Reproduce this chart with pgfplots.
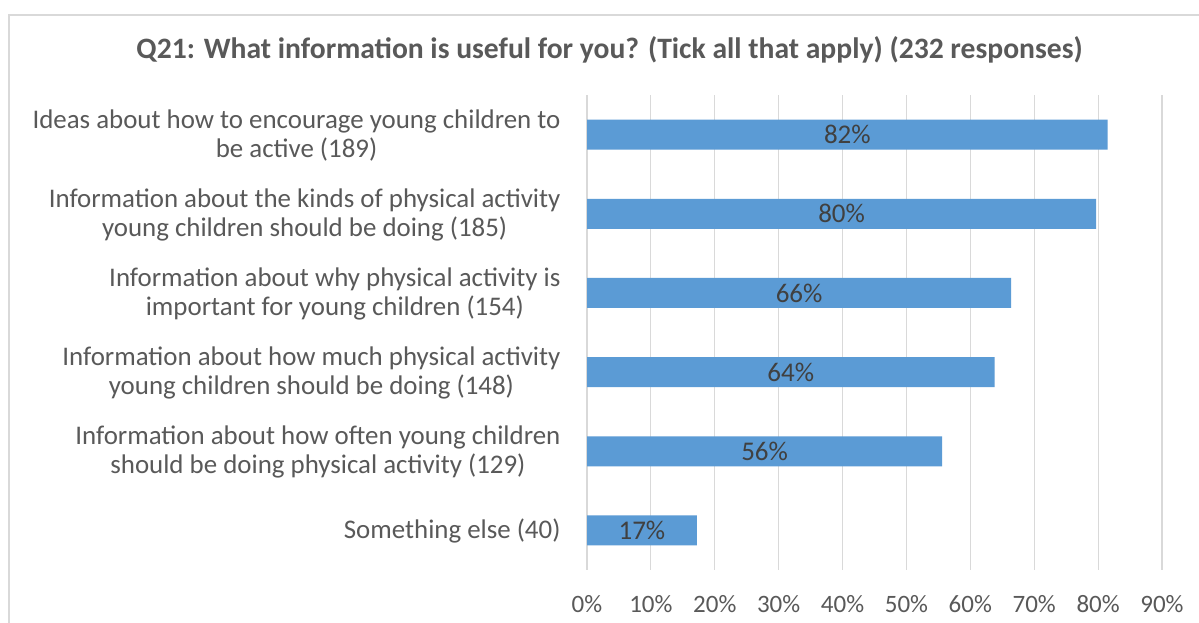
\documentclass[border=0pt]{standalone}
\usepackage{fontspec}
\setmainfont{Carlito}
\usepackage{pgfplots}
\usepackage{pgfplotstable}
\pgfplotsset{compat=1.18}
\definecolor{barblue}{HTML}{5B9BD5}
\definecolor{gridgray}{HTML}{D9D9D9}
\definecolor{txtgray}{HTML}{595959}
\definecolor{lblgray}{HTML}{404040}
\pgfplotstableread{
idx v lab
0 81.5 82
1 79.7 80
2 66.4 66
3 63.8 64
4 55.6 56
5 17.2 17
}\datatable
\begin{document}
\begin{tikzpicture}[x=1pt,y=1pt]
\useasboundingbox (0,0) rectangle (1199,623);
\fill[white] (0,0) rectangle (1199,623);
\draw[gridgray, line width=2pt] (9,0) -- (9,608) -- (1199,608);
\node[font=\fontsize{29.6}{34}\selectfont\bfseries, text=txtgray] at (609.5,573) {Q21: What information is useful for you? (Tick all that apply) (232 responses)};
\begin{axis}[
  at={(587pt,53pt)}, anchor=south west,
  width=575pt, height=475pt, scale only axis,
  xmin=0, xmax=90, ymin=-0.5, ymax=5.5, y dir=reverse,
  axis line style={draw=none},
  major tick length=0pt,
  xtick={0,10,...,90},
  xticklabel={\pgfmathprintnumber{\tick}\%},
  /pgf/number format/assume math mode=true,
  xmajorgrids, grid style={gridgray, line width=1.2pt},
  ytick={0,...,5},
  yticklabels={
    {Ideas about how to encourage young children to\\be active (189)},
    {Information about the kinds of physical activity\\young children should be doing (185)},
    {Information about why physical activity is\\important for young children (154)},
    {Information about how much physical activity\\young children should be doing (148)},
    {Information about how often young children\\should be doing physical activity (129)},
    {Something else (40)}},
  yticklabel style={align=center, anchor=east, xshift=-23pt, yshift=-1pt, text=txtgray, font=\fontsize{26.9}{29}\selectfont},
  xticklabel style={anchor=center, yshift=-34pt, text=txtgray, font=\fontsize{25}{28}\selectfont},
  clip=false,
]
\addplot[xbar, bar width=30pt, fill=barblue, draw=none] table[x=v, y=idx] {\datatable};
\addplot[draw=none, mark=none, nodes near coords={\pgfplotspointmeta\%}, point meta=explicit symbolic,
  every node near coord/.append style={anchor=center, text=lblgray, font=\fontsize{27}{30}\selectfont}]
  table[x expr=\thisrow{v}/2, y=idx, meta=lab] {\datatable};
\end{axis}
\end{tikzpicture}
\end{document}
